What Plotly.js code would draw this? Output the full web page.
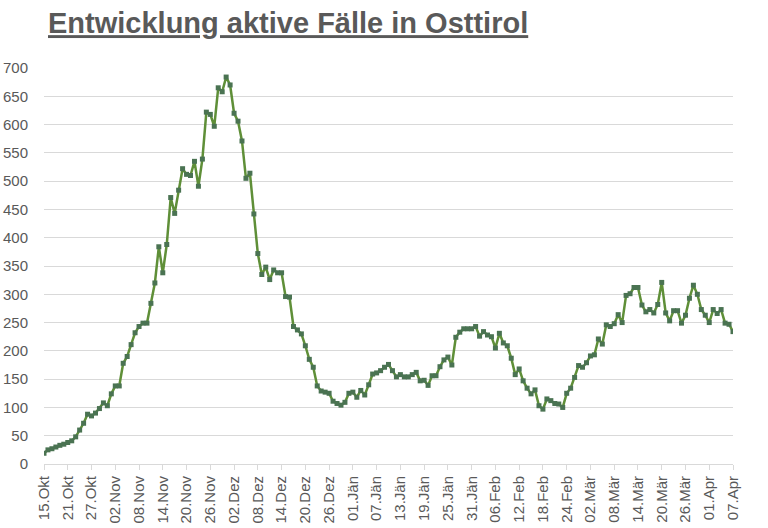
<!DOCTYPE html>
<html>
<head>
<meta charset="utf-8">
<script src="https://cdn.plot.ly/plotly-3.0.1.min.js"></script>
<style>
  html, body { margin: 0; padding: 0; background: #fff; }
  #chart { width: 768px; height: 528px; }
</style>
</head>
<body>
<div id="chart"></div>
<script>
// aktive Fälle, täglich vom 15.Okt bis 07.Apr
const activeCases = [
  19, 25, 27, 30, 33, 35, 38, 41, 48, 60,
  72, 88, 85, 90, 98, 108, 103, 124, 138, 138,
  178, 190, 211, 232, 243, 249, 249, 284, 320, 384,
  338, 388, 471, 443, 484, 522, 512, 510, 535, 491,
  539, 622, 618, 597, 665, 658, 684, 670, 620, 606,
  571, 505, 514, 442, 372, 335, 348, 326, 343, 338,
  338, 296, 295, 243, 237, 230, 209, 185, 171, 138,
  129, 127, 125, 111, 107, 104, 109, 125, 127, 118,
  130, 122, 140, 159, 161, 165, 171, 176, 165, 154,
  158, 154, 154, 158, 162, 147, 148, 139, 156, 156,
  172, 184, 189, 175, 224, 233, 239, 239, 239, 243,
  226, 234, 228, 225, 205, 231, 214, 209, 187, 158,
  168, 147, 134, 124, 131, 103, 97, 115, 112, 107,
  106, 100, 125, 134, 153, 174, 171, 179, 191, 193,
  221, 212, 246, 243, 248, 264, 250, 298, 301, 312,
  312, 281, 269, 273, 267, 282, 321, 267, 253, 271,
  271, 249, 263, 293, 316, 300, 273, 263, 250, 273,
  266, 273, 249, 247, 234
];

// Beschriftung jeder sechsten Kategorie
const tickLabels = [
  "15.Okt", "21.Okt", "27.Okt", "02.Nov", "08.Nov", "14.Nov", "20.Nov", "26.Nov",
  "02.Dez", "08.Dez", "14.Dez", "20.Dez", "26.Dez", "01.Jän", "07.Jän", "13.Jän",
  "19.Jän", "25.Jän", "31.Jän", "06.Feb", "12.Feb", "18.Feb", "24.Feb", "02.Mär",
  "08.Mär", "14.Mär", "20.Mär", "26.Mär", "01.Apr", "07.Apr"
];
const labelStep = 6;

const dayIndex = activeCases.map((_, i) => i);
const tickPositions = tickLabels.map((_, i) => i * labelStep);

const gray = "#595959";
const grid = "#d9d9d9";

Plotly.newPlot("chart", [{
  type: "scatter",
  mode: "lines+markers",
  x: dayIndex,
  y: activeCases,
  line: { color: "#5f8f38", width: 2.5 },
  marker: { symbol: "square", size: 5, color: "#4a7352" },
  hoverinfo: "y",
}], {
  width: 768,
  height: 528,
  paper_bgcolor: "#ffffff",
  plot_bgcolor: "#ffffff",
  font: { family: "Liberation Sans, Arial, sans-serif", color: gray },
  showlegend: false,
  margin: { t: 68, b: 64, l: 44, r: 35 },
  title: {
    text: "<b>Entwicklung aktive Fälle in Osttirol</b>",
    font: { size: 29, color: gray, family: "Liberation Sans, Arial, sans-serif", lineposition: "under" },
    xref: "container", yref: "container",
    x: 48 / 768, xanchor: "left",
    y: 1 - 23 / 528, yanchor: "middle",
  },
  xaxis: {
    range: [0, activeCases.length - 1],
    tickmode: "array",
    tickvals: tickPositions,
    ticktext: tickLabels,
    tickangle: -90,
    tickfont: { size: 15, color: gray },
    ticks: "outside",
    ticklen: 5,
    tickcolor: grid,
    showgrid: false,
    showline: true,
    linecolor: grid,
    linewidth: 1,
    zeroline: false,
    fixedrange: true,
  },
  yaxis: {
    range: [0, 700],
    dtick: 50,
    tickfont: { size: 15, color: gray },
    gridcolor: grid,
    gridwidth: 1,
    zeroline: false,
    showline: false,
    ticks: "",
    ticklabelstandoff: 15,
    fixedrange: true,
  },
}, { displayModeBar: false, staticPlot: true });
</script>
</body>
</html>
